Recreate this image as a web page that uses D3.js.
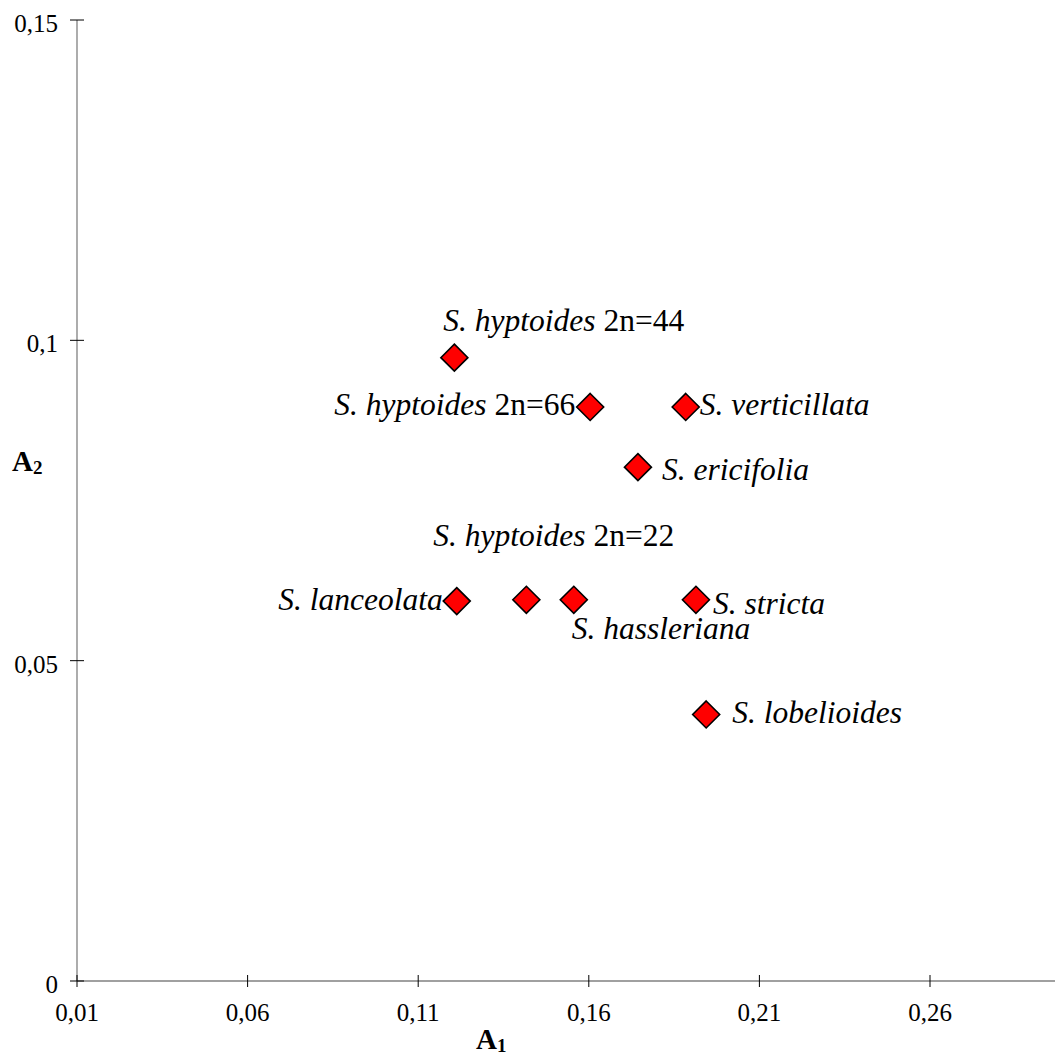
<!DOCTYPE html>
<html>
<head>
<meta charset="utf-8">
<script src="https://cdn.jsdelivr.net/npm/d3@7/dist/d3.min.js"></script>
<style>
  body { margin: 0; background: #fff; }
  svg { display: block; font-family: "Liberation Serif", "Times New Roman", serif; }
  .tick-label { font-size: 25px; fill: #000; }
  .pt-label { font-size: 31.5px; fill: #000; }
  .axis-title { font-size: 29px; font-weight: bold; }
</style>
</head>
<body>
<svg id="chart" width="1057" height="1057"></svg>
<script>
// species names (italic part) and chromosome suffix (upright part)
var species = ["S. hyptoides", "S. hyptoides", "S. verticillata", "S. ericifolia",
               "S. lanceolata", "S. hyptoides", "S. hassleriana", "S. stricta", "S. lobelioides"];
var suffix  = ["2n=44", "2n=66", "", "", "", "2n=22", "", "", ""];
var a1 = [0.1206, 0.1604, 0.1884, 0.1744, 0.1213, 0.1417, 0.1556, 0.1914, 0.1944];
var a2 = [0.0973, 0.0896, 0.0896, 0.0802, 0.0593, 0.0595, 0.0595, 0.0595, 0.0416];

var xTicks = [0.01, 0.06, 0.11, 0.16, 0.21, 0.26];
var yTicks = [0, 0.05, 0.1, 0.15];

// where each label sits relative to its marker
var labelPlace = [
  {dx: -11, dy: -27, anchor: "start"},
  {dx: -15, dy: 8,   anchor: "end"},
  {dx: 14,  dy: 8,   anchor: "start"},
  {dx: 24,  dy: 13,  anchor: "start"},
  {dx: -14, dy: 9,   anchor: "end"},
  {dx: -93, dy: -54, anchor: "start"},
  {dx: -2,  dy: 39,  anchor: "start"},
  {dx: 17,  dy: 14,  anchor: "start"},
  {dx: 26,  dy: 9,   anchor: "start"}
];

var svg = d3.select("#chart");

var x = d3.scaleLinear().domain([0.01, 0.26]).range([77, 930]);
var y = d3.scaleLinear().domain([0, 0.15]).range([981, 20]);

var fmt = function(v) { return String(v).replace(".", ","); };

// axis lines
svg.append("line")
  .attr("x1", x(0.01)).attr("x2", x(0.01))
  .attr("y1", y(0.15)).attr("y2", y(0))
  .attr("stroke", "#808080").attr("stroke-width", 1.3);
svg.append("line")
  .attr("x1", x(0.01)).attr("x2", 1055)
  .attr("y1", y(0)).attr("y2", y(0))
  .attr("stroke", "#808080").attr("stroke-width", 1.3);

// y ticks
svg.selectAll(".ytick").data(yTicks).enter().append("line")
  .attr("x1", x(0.01) - 7).attr("x2", x(0.01) + 7)
  .attr("y1", d => y(d)).attr("y2", d => y(d))
  .attr("stroke", "#000").attr("stroke-width", 1);
svg.selectAll(".ylab").data(yTicks).enter().append("text")
  .attr("class", "tick-label")
  .attr("x", 58).attr("y", d => y(d) + 12)
  .attr("text-anchor", "end")
  .text(fmt);

// x ticks
svg.selectAll(".xtick").data(xTicks).enter().append("line")
  .attr("x1", d => x(d)).attr("x2", d => x(d))
  .attr("y1", y(0) - 6).attr("y2", y(0) + 6)
  .attr("stroke", "#000").attr("stroke-width", 1);
svg.selectAll(".xlab").data(xTicks).enter().append("text")
  .attr("class", "tick-label")
  .attr("x", d => x(d)).attr("y", y(0) + 40)
  .attr("text-anchor", "middle")
  .text(fmt);

// axis titles
var t1 = svg.append("text").attr("class", "axis-title").attr("x", 476).attr("y", 1049);
t1.append("tspan").text("A");
t1.append("tspan").attr("font-size", "19px").attr("dy", 3).text("1");
var t2 = svg.append("text").attr("class", "axis-title").attr("x", 12).attr("y", 471);
t2.append("tspan").text("A");
t2.append("tspan").attr("font-size", "19px").attr("dy", 3).text("2");

// markers
var pts = d3.range(species.length);
svg.selectAll(".pt").data(pts).enter().append("path")
  .attr("d", "M0,-13.5L13.5,0L0,13.5L-13.5,0Z")
  .attr("transform", i => "translate(" + x(a1[i]) + "," + y(a2[i]) + ")")
  .attr("fill", "#ff0000").attr("stroke", "#000").attr("stroke-width", 1.6);

// labels
var lab = svg.selectAll(".pt-label").data(pts).enter().append("text")
  .attr("class", "pt-label")
  .attr("x", i => x(a1[i]) + labelPlace[i].dx)
  .attr("y", i => y(a2[i]) + labelPlace[i].dy)
  .attr("text-anchor", i => labelPlace[i].anchor);
lab.append("tspan").attr("font-style", "italic").text(i => species[i]);
lab.append("tspan").text(i => suffix[i] ? " " + suffix[i] : "");
</script>
</body>
</html>
